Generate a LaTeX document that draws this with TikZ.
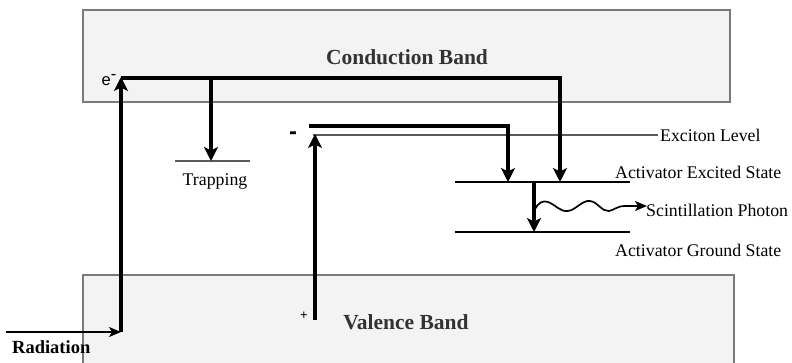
\documentclass[tikz,border=0pt]{standalone}
\usepackage{fontspec}
\setmainfont{Liberation Serif}
\setsansfont{Liberation Sans}
\usetikzlibrary{arrows.meta}
\definecolor{bandfill}{HTML}{F3F3F3}
\definecolor{bandline}{HTML}{7A7A7A}
\definecolor{bandtext}{HTML}{333333}
\definecolor{levelgray}{HTML}{5A5A5A}
\tikzset{
  bandedge/.style={draw=bandline, line width=1.2pt},
  bandlabel/.style={font=\fontsize{21.5}{24}\selectfont\bfseries, text=bandtext, inner sep=0pt},
  lbl/.style={font=\fontsize{17.8}{20}\selectfont, inner sep=0pt, anchor=west},
  thickarrow/.style={line width=3.3pt, -{Stealth[length=14pt, width=14pt, inset=3.5pt]}},
  levelline/.style={line width=2.4pt},
  thinlevel/.style={draw=levelgray, line width=1.4pt},
  thinarrow/.style={line width=1.3pt, -{Stealth[length=12pt, width=10pt, inset=3pt]}},
}
\begin{document}
\begin{tikzpicture}[x=1pt, y=-1pt]
\useasboundingbox (0,0) rectangle (792,363);
% conduction band
\fill[bandfill] (83,10) rectangle (730,102);
\draw[bandedge] (83,10) rectangle (730,102);
\node[bandlabel] (cbl) at (407,57) {Conduction Band};
% valence band
\fill[bandfill] (83,275) rectangle (734,366);
\draw[bandedge] (83,366) -- (83,275) -- (734,275) -- (734,366);
\node[bandlabel] (vbl) at (406,322) {Valence Band};

% coordinates
\coordinate (radstart) at (6,332);
\coordinate (ebot) at (121,332);
\coordinate (etop) at (121,77);
\coordinate (ecorner) at (560,78);
\coordinate (eend) at (560,182);
\coordinate (trapstart) at (211,78);
\coordinate (trapend) at (211,161);
\coordinate (trapL) at (175,161);
\coordinate (trapR) at (250,161);
\coordinate (exstart) at (309,126);
\coordinate (excorner) at (508,126);
\coordinate (exend) at (508,182);
\coordinate (exlvlL) at (313,135);
\coordinate (exlvlR) at (658,135);
\coordinate (holebot) at (315,320);
\coordinate (holetop) at (315,134);
\coordinate (actexL) at (455,182);
\coordinate (actexR) at (630,182);
\coordinate (actgrL) at (455,232);
\coordinate (actgrR) at (630,232);
\coordinate (dexTop) at (534,182);
\coordinate (dexBot) at (534,232);
\coordinate (wavestart) at (535,209);
\coordinate (waveend) at (647,206);

% levels
\draw[thinlevel] (trapL) -- (trapR);
\draw[thinlevel] (exlvlL) -- (exlvlR);
\draw[levelline] (actexL) -- (actexR);
\draw[levelline] (actgrL) -- (actgrR);

% connectors
\draw[thinarrow] (radstart) -- (ebot);
\draw[thickarrow] (ebot) -- (etop);
\draw[thickarrow] (121,78) -- (ecorner) -- (eend);
\draw[thickarrow] (trapstart) -- (trapend);
\draw[thickarrow] (exstart) -- (excorner) -- (exend);
\draw[thickarrow] (holebot) -- (holetop);
\draw[thickarrow] (dexTop) -- (dexBot);

% photon wave
\draw[line width=1.7pt, -{Stealth[length=12pt, width=10pt, inset=3pt]}]
  (wavestart) .. controls (538,203) and (543,200) .. (548,202)
  .. controls (556,205) and (560,212) .. (568,211)
  .. controls (576,210) and (582,200) .. (590,201)
  .. controls (598,202) and (602,212) .. (609,211)
  .. controls (614,210) and (618,206) .. (624,206)
  -- (waveend);

% labels
\node[font=\sffamily\fontsize{16.5}{18}\selectfont, inner sep=0pt, anchor=east] (elab) at (117,80) {e$^{\textsf{-}}$};
\node[font=\sffamily\bfseries\fontsize{24}{26}\selectfont, inner sep=0pt] (minus) at (293,136) {-};
\node[font=\sffamily\fontsize{13}{15}\selectfont, inner sep=0pt] (plus) at (304,316) {+};
\node[lbl, anchor=center] (traplbl) at (215,182) {Trapping};
\node[lbl] (exlbl) at (660,135) {Exciton Level};
\node[lbl] (aexlbl) at (615,172) {Activator Excited State};
\node[lbl] (phlbl) at (646,210) {Scintillation Photon};
\node[lbl] (agrlbl) at (615,250) {Activator Ground State};
\node[lbl, font=\fontsize{18.5}{20}\selectfont\bfseries] (radlbl) at (12,347) {Radiation};
\end{tikzpicture}
\end{document}
